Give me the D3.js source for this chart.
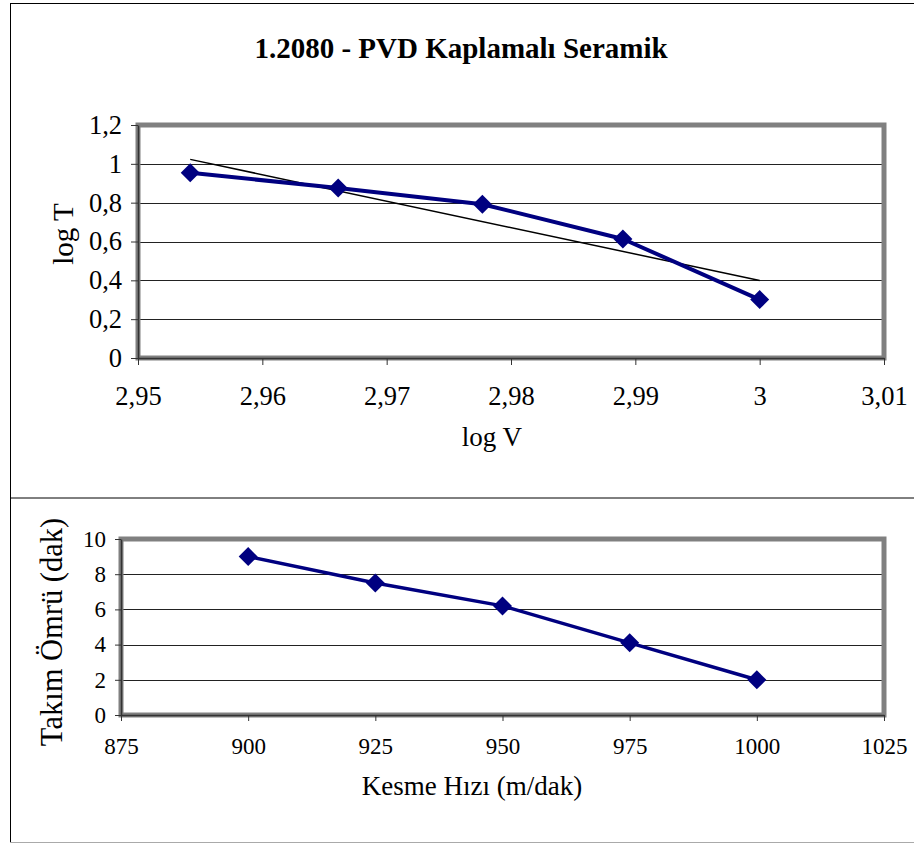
<!DOCTYPE html>
<html>
<head>
<meta charset="utf-8">
<script src="https://cdn.jsdelivr.net/npm/d3@7"></script>
<style>
  body { margin: 0; background: #fff; }
  svg, svg text { font-family: "Liberation Serif", "Times New Roman", serif; }
  svg { display: block; }
</style>
</head>
<body>
<div class="charts"></div>
<script>
// top chart: log V vs log T
var logV = [2.9542, 2.9661, 2.9777, 2.9890, 3.0];
var logT = [0.954, 0.875, 0.792, 0.613, 0.301];
// trend line ends
var trendV = [2.9542, 3.0];
var trendT = [1.023, 0.399];
var logVTicks = [2.95, 2.96, 2.97, 2.98, 2.99, 3.00, 3.01];
var logTTicks = [0, 0.2, 0.4, 0.6, 0.8, 1.0, 1.2];

// bottom chart: cutting speed vs tool life
var speed = [900, 925, 950, 975, 1000];
var life = [9, 7.5, 6.2, 4.1, 2];
var speedTicks = [875, 900, 925, 950, 975, 1000, 1025];
var lifeTicks = [0, 2, 4, 6, 8, 10];

var width = 914, height = 844;
var comma = function(d) { return d3.format("~g")(d).replace(".", ","); };

var svg = d3.select(".charts")
    .append("svg")
    .attr("width", width)
    .attr("height", height);

// outer frames
svg.append("rect")
    .attr("x", 10.5).attr("y", 3.5)
    .attr("width", 920).attr("height", 494.5)
    .style("fill", "none").style("stroke", "#000").style("stroke-width", 1);
svg.append("line")
    .attr("x1", 10.5).attr("x2", 10.5).attr("y1", 498).attr("y2", 843)
    .style("stroke", "#000");
svg.append("line")
    .attr("x1", 10).attr("x2", 914).attr("y1", 842.5).attr("y2", 842.5)
    .style("stroke", "#aaa");

function drawChart(opt) {
  var x = d3.scaleLinear().domain(opt.xDomain).range([opt.left, opt.right]);
  var y = d3.scaleLinear().domain(opt.yDomain).range([opt.bottom, opt.top]);
  var g = svg.append("g");

  // gridlines
  g.selectAll(".grid")
      .data(opt.yTicks.slice(1, -1))
    .enter().append("line")
      .attr("x1", opt.left).attr("x2", opt.right)
      .attr("y1", function(d) { return Math.round(y(d)) + 0.5; })
      .attr("y2", function(d) { return Math.round(y(d)) + 0.5; })
      .style("stroke", "#222")
      .style("stroke-width", 1);

  // plot area border
  g.append("rect")
      .attr("x", opt.left).attr("y", opt.top)
      .attr("width", opt.right - opt.left)
      .attr("height", opt.bottom - opt.top)
      .style("fill", "none")
      .style("stroke", "#808080")
      .style("stroke-width", 5);

  var xAxis = g.append("g")
      .attr("transform", "translate(0," + opt.bottom + ")")
      .call(d3.axisBottom(x).tickValues(opt.xTicks).tickFormat(opt.fmt)
            .tickSizeInner(opt.tick).tickSizeOuter(0).tickPadding(opt.xPad))
      .attr("font-family", null)
      .attr("font-size", opt.tickFont);
  xAxis.select(".domain").style("stroke", "#333").style("stroke-width", 1.5);
  xAxis.selectAll("line").style("stroke", "#333");
  xAxis.selectAll("text").style("fill", "#000");

  var yAxis = g.append("g")
      .attr("transform", "translate(" + opt.left + ",0)")
      .call(d3.axisLeft(y).tickValues(opt.yTicks).tickFormat(opt.fmt)
            .tickSizeInner(opt.tick).tickSizeOuter(0).tickPadding(opt.yPad))
      .attr("font-family", null)
      .attr("font-size", opt.tickFont);
  yAxis.select(".domain").style("stroke", "#333").style("stroke-width", 1.5);
  yAxis.selectAll("line").style("stroke", "#333");
  yAxis.selectAll("text").style("fill", "#000");

  return {x: x, y: y, g: g};
}

function drawSeries(c, xs, ys, lineW, half) {
  var pts = xs.map(function(d, i) { return [d, ys[i]]; });
  var line = d3.line()
      .x(function(d) { return c.x(d[0]); })
      .y(function(d) { return c.y(d[1]); });

  c.g.append("path")
      .datum(pts)
      .attr("d", line)
      .style("fill", "none")
      .style("stroke", "#000080")
      .style("stroke-width", lineW)
      .style("stroke-linejoin", "round");

  c.g.selectAll(".pt")
      .data(pts)
    .enter().append("path")
      .attr("transform", function(d) { return "translate(" + c.x(d[0]) + "," + c.y(d[1]) + ")"; })
      .attr("d", "M0," + (-half) + "L" + half + ",0L0," + half + "L" + (-half) + ",0Z")
      .style("fill", "#000080");
}

// ---- top chart
var top1 = drawChart({
  left: 138, right: 884, top: 125, bottom: 358,
  xDomain: [2.95, 3.01], yDomain: [0, 1.2],
  xTicks: logVTicks, yTicks: logTTicks, fmt: comma,
  tick: 7, xPad: 21, yPad: 9, tickFont: 26.5
});

top1.g.append("path")
    .datum(trendV.map(function(d, i) { return [d, trendT[i]]; }))
    .attr("d", d3.line()
        .x(function(d) { return top1.x(d[0]); })
        .y(function(d) { return top1.y(d[1]); }))
    .style("fill", "none")
    .style("stroke", "#000")
    .style("stroke-width", 1.5);

drawSeries(top1, logV, logT, 4, 9.5);

svg.append("text")
    .attr("x", 461).attr("y", 58)
    .attr("text-anchor", "middle")
    .style("font-size", "29px")
    .style("font-weight", "bold")
    .text("1.2080 - PVD Kaplamalı Seramik");

svg.append("text")
    .attr("x", 492).attr("y", 446)
    .attr("text-anchor", "middle")
    .style("font-size", "27px")
    .text("log V");

svg.append("text")
    .attr("transform", "translate(73,234) rotate(-90)")
    .attr("text-anchor", "middle")
    .style("font-size", "29px")
    .text("log T");

// ---- bottom chart
var bot = drawChart({
  left: 121, right: 884, top: 539, bottom: 715,
  xDomain: [875, 1025], yDomain: [0, 10],
  xTicks: speedTicks, yTicks: lifeTicks, fmt: d3.format("d"),
  tick: 6, xPad: 17, yPad: 9, tickFont: 23
});

drawSeries(bot, speed, life, 3.5, 9.5);

svg.append("text")
    .attr("x", 472).attr("y", 795)
    .attr("text-anchor", "middle")
    .style("font-size", "27px")
    .text("Kesme Hızı (m/dak)");

svg.append("text")
    .attr("transform", "translate(62,632) rotate(-90)")
    .attr("text-anchor", "middle")
    .style("font-size", "30.5px")
    .text("Takım Ömrü (dak)");
</script>
</body>
</html>
